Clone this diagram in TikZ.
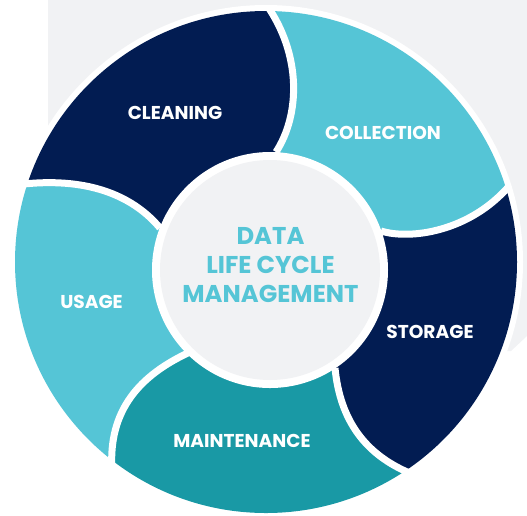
\documentclass[tikz,border=0pt]{standalone}
\usepackage{fontspec}
\setmainfont{Poppins}
\usetikzlibrary{calc}
\definecolor{navy}{HTML}{021C52}
\definecolor{cyanseg}{HTML}{55C5D6}
\definecolor{tealseg}{HTML}{1999A5}
\definecolor{bggray}{HTML}{F1F2F4}
\tikzset{
  seglabel/.style={text=white,font=\bfseries\fontsize{18.6}{22}\selectfont,inner sep=0pt},
  divider/.style={draw=white,line width=7pt},
}
\begin{document}
\begin{tikzpicture}[x=1pt,y=-1pt]
\useasboundingbox (0,0) rectangle (527,515);
% background panel
\fill[bggray] (48,0) -- (527,0) -- (527,336) -- (511,351) -- (48,351) -- cycle;
% centres
\coordinate (Co) at (266,262);
\coordinate (Ci) at (270,270);
% divider points
\coordinate (A1) at (276,152); \coordinate (P1) at (300,115); \coordinate (Q1) at (302,55);  \coordinate (B1) at (266,4);
\coordinate (A2) at (381,231); \coordinate (P2) at (410,240); \coordinate (Q2) at (470,232); \coordinate (B2) at (510,185);
\coordinate (A3) at (335,368); \coordinate (P3) at (340,420); \coordinate (Q3) at (365,455); \coordinate (B3) at (412,474);
\coordinate (A4) at (190,352); \coordinate (P4) at (140,375); \coordinate (Q4) at (108,410); \coordinate (B4) at (112,470);
\coordinate (A5) at (160,228); \coordinate (P5) at (135,198); \coordinate (Q5) at (92,177);  \coordinate (B5) at (24,184);
% far points
\coordinate (F1) at (266,-254); \coordinate (F2) at (750,110); \coordinate (F3) at (558,686);
\coordinate (F4) at (-42,678);  \coordinate (F5) at (-218,106);
\coordinate (M12) at (567,-137); \coordinate (M23) at (739,425); \coordinate (M34) at (257,762);
\coordinate (M45) at (-211,412); \coordinate (M51) at (-24,-145);
% outer white disk
\fill[white] (Co) circle[radius=257];
\begin{scope}
  \clip (Co) circle[radius=251];
  % cleaning
  \fill[navy] (Ci) -- (A5) .. controls (P5) and (Q5) .. (B5) -- (F5) -- (M51) -- (F1) -- (B1) .. controls (Q1) and (P1) .. (A1) -- cycle;
  % collection
  \fill[cyanseg] (Ci) -- (A1) .. controls (P1) and (Q1) .. (B1) -- (F1) -- (M12) -- (F2) -- (B2) .. controls (Q2) and (P2) .. (A2) -- cycle;
  % storage
  \fill[navy] (Ci) -- (A2) .. controls (P2) and (Q2) .. (B2) -- (F2) -- (M23) -- (F3) -- (B3) .. controls (Q3) and (P3) .. (A3) -- cycle;
  % maintenance
  \fill[tealseg] (Ci) -- (A3) .. controls (P3) and (Q3) .. (B3) -- (F3) -- (M34) -- (F4) -- (B4) .. controls (Q4) and (P4) .. (A4) -- cycle;
  % usage
  \fill[cyanseg] (Ci) -- (A4) .. controls (P4) and (Q4) .. (B4) -- (F4) -- (M45) -- (F5) -- (B5) .. controls (Q5) and (P5) .. (A5) -- cycle;
\end{scope}
\begin{scope}
  \clip (Co) circle[radius=257];
  \draw[divider] (A1) .. controls (P1) and (Q1) .. (B1);
  \draw[divider] (A2) .. controls (P2) and (Q2) .. (B2);
  \draw[divider] (A3) .. controls (P3) and (Q3) .. (B3);
  \draw[divider] (A4) .. controls (P4) and (Q4) .. (B4);
  \draw[divider] (A5) .. controls (P5) and (Q5) .. (B5);
\end{scope}
% centre disk
\fill[white] (Ci) circle[radius=118];
\node[circle,fill=bggray,minimum size=220pt,inner sep=0pt] (hub) at (Ci) {};
\node[text=cyanseg,align=center,font=\bfseries\fontsize{24.3}{29}\selectfont,inner sep=0pt] (title) at (270.5,265) {DATA\\LIFE CYCLE\\MANAGEMENT};
% labels
\node[seglabel] (cleaning) at (175,113) {CLEANING};
\node[seglabel] (collection) at (383,133) {COLLECTION};
\node[seglabel] (storage) at (430,332) {STORAGE};
\node[seglabel] (usage) at (91.5,301.5) {USAGE};
\node[seglabel] (maintenance) at (242,441) {MAINTENANCE};
\end{tikzpicture}
\end{document}
